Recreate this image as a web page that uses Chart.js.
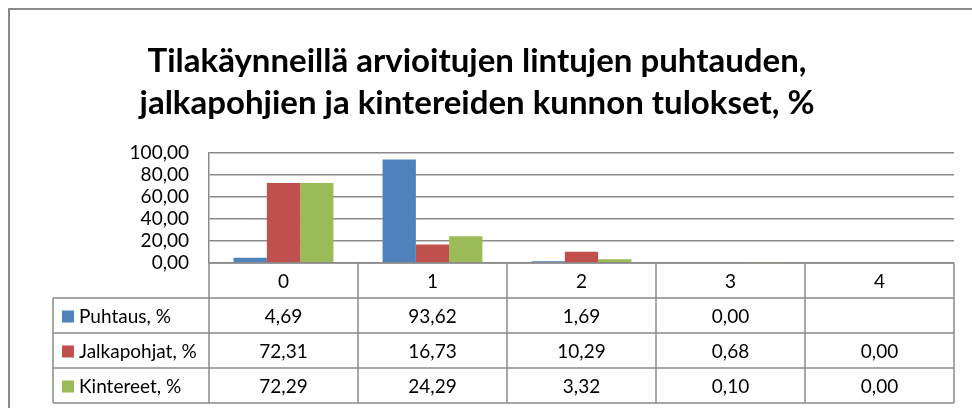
<!DOCTYPE html>
<html lang="fi">
<head>
    <meta charset="UTF-8">
    <title>Tilakäynneillä arvioitujen lintujen puhtauden, jalkapohjien ja kintereiden kunnon tulokset</title>
    <script src="https://cdn.jsdelivr.net/npm/chart.js@4/dist/chart.umd.min.js"></script>
    <style>
        html, body { margin: 0; padding: 0; background: #fff; overflow: hidden; }
        #wrap { width: 972px; height: 408px; }
    </style>
</head>
<body>
    <div id="wrap"><canvas id="chart" width="972" height="408"></canvas></div>

    <script>
        // chart data
        var categories = ['0', '1', '2', '3', '4'];
        var puhtaus = [4.69, 93.62, 1.69, 0.00, null];
        var jalkapohjat = [72.31, 16.73, 10.29, 0.68, 0.00];
        var kintereet = [72.29, 24.29, 3.32, 0.10, 0.00];
        var seriesNames = ['Puhtaus, %', 'Jalkapohjat, %', 'Kintereet, %'];
        var titleLines = ['Tilakäynneillä arvioitujen lintujen puhtauden,', 'jalkapohjien ja kintereiden kunnon tulokset, %'];

        var colors = ['#4F81BD', '#C0504D', '#9BBB59'];
        var lineColor = '#8a8a8a';
        var fontFamily = 'Lato, "Liberation Sans", sans-serif';
        var textSize = 19;

        function fmt(v) {
            if (v === null || v === undefined) return '';
            return v.toFixed(2).replace('.', ',');
        }

        // outer frame (only top and left edges are inside the picture)
        var framePlugin = {
            id: 'frame',
            beforeDraw: function(chart) {
                var ctx = chart.ctx;
                ctx.save();
                ctx.fillStyle = '#fff';
                ctx.fillRect(0, 0, chart.width, chart.height);
                ctx.strokeStyle = lineColor;
                ctx.lineWidth = 2;
                ctx.beginPath();
                ctx.moveTo(9, chart.height);
                ctx.lineTo(9, 9);
                ctx.lineTo(chart.width, 9);
                ctx.stroke();
                ctx.restore();
            }
        };

        // data table under the plot, columns taken from the x scale
        var tablePlugin = {
            id: 'dataTable',
            afterDraw: function(chart) {
                var ctx = chart.ctx;
                var xs = chart.scales.x;
                var area = chart.chartArea;
                var rowH = 35;
                var top = area.bottom;
                var left = 53;
                var half = (xs.getPixelForTick(1) - xs.getPixelForTick(0)) / 2;
                var bottom = top + rowH * 4;

                ctx.save();
                ctx.strokeStyle = lineColor;
                ctx.lineWidth = 1.5;
                ctx.beginPath();
                ctx.moveTo(area.left, top); ctx.lineTo(area.right, top);
                for (var r = 1; r <= 4; r++) {
                    ctx.moveTo(left, top + r * rowH); ctx.lineTo(area.right, top + r * rowH);
                }
                ctx.moveTo(left, top + rowH); ctx.lineTo(left, bottom);
                for (var i = 0; i < categories.length; i++) {
                    var bx = xs.getPixelForTick(i) - half;
                    ctx.moveTo(bx, top); ctx.lineTo(bx, bottom);
                }
                ctx.moveTo(area.right, top); ctx.lineTo(area.right, bottom);
                ctx.stroke();

                ctx.fillStyle = '#000';
                ctx.font = textSize + 'px ' + fontFamily;
                ctx.textBaseline = 'middle';
                ctx.textAlign = 'center';
                categories.forEach(function(c, i) {
                    ctx.fillText(c, xs.getPixelForTick(i), top + rowH / 2 + 1);
                });

                chart.data.datasets.forEach(function(ds, d) {
                    var cy = top + rowH * (d + 1) + rowH / 2 + 1;
                    ctx.fillStyle = ds.backgroundColor;
                    ctx.fillRect(left + 9, cy - 6, 12, 12);
                    ctx.fillStyle = '#000';
                    ctx.textAlign = 'left';
                    ctx.fillText(ds.label, left + 26, cy);
                    ctx.textAlign = 'center';
                    ds.data.forEach(function(v, i) {
                        ctx.fillText(fmt(v), xs.getPixelForTick(i), cy);
                    });
                });
                ctx.restore();
            }
        };

        var ctx = document.getElementById('chart').getContext('2d');
        var chart = new Chart(ctx, {
            type: 'bar',
            data: {
                labels: categories,
                datasets: [
                    { label: seriesNames[0], data: puhtaus, backgroundColor: colors[0] },
                    { label: seriesNames[1], data: jalkapohjat, backgroundColor: colors[1] },
                    { label: seriesNames[2], data: kintereet, backgroundColor: colors[2] }
                ]
            },
            options: {
                responsive: false,
                animation: false,
                devicePixelRatio: 1,
                layout: { padding: { left: 0, right: 18, top: 0, bottom: 145 } },
                datasets: {
                    bar: { barPercentage: 1, categoryPercentage: 0.67 }
                },
                plugins: {
                    legend: { display: false },
                    tooltip: { enabled: false },
                    title: {
                        display: true,
                        text: titleLines,
                        color: '#000',
                        font: { family: fontFamily, size: 33, weight: 'bold', lineHeight: 1.25 },
                        padding: { top: 41, bottom: 29 }
                    }
                },
                scales: {
                    x: {
                        display: false
                    },
                    y: {
                        min: 0,
                        max: 100,
                        ticks: {
                            stepSize: 20,
                            autoSkip: false,
                            color: '#000',
                            padding: 20,
                            font: { family: fontFamily, size: textSize, lineHeight: 1 },
                            callback: function(v) { return fmt(v); }
                        },
                        grid: { color: lineColor, lineWidth: 1.5, drawTicks: false },
                        border: { display: true, color: lineColor, width: 1.5 },
                        afterFit: function(scale) { scale.width = 209; }
                    }
                }
            },
            plugins: [framePlugin, tablePlugin]
        });
    </script>
</body>
</html>
